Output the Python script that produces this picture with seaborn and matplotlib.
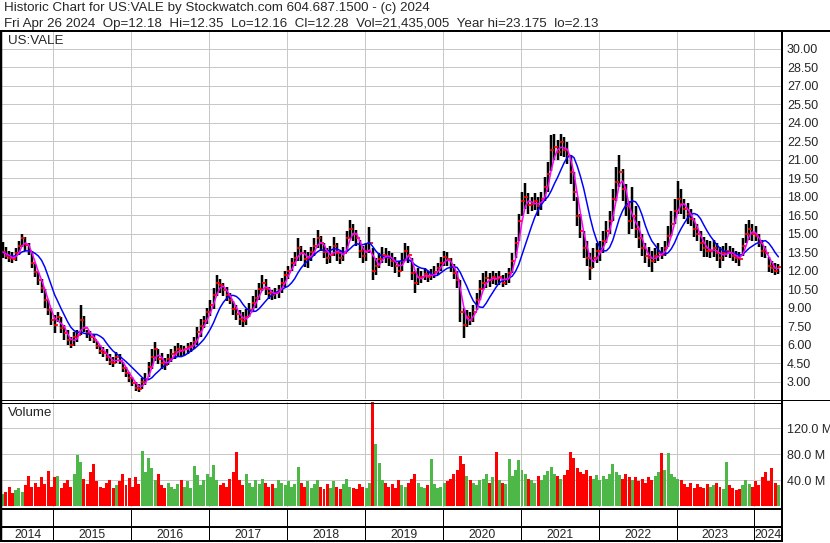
import numpy as np
import pandas as pd
import matplotlib
matplotlib.use("Agg")
import matplotlib.pyplot as plt
import seaborn as sns

sns.set_style("white")
plt.rcParams["font.family"] = ["Liberation Sans", "DejaVu Sans"]

# ---------------- data (semi-monthly bars, late Apr 2014 -> Apr 2024) ----------------
start_year = 2014.35          # first bar position in fractional years
n_per_year = 24

price_high = [
    14.3, 13.9, 13.6, 13.5, 13.8, 14.4, 15.0, 14.7, 14.2, 13.6,
    12.5, 11.9, 11.3, 10.5, 9.6, 9.0, 8.4, 8.6, 8.2, 7.6,
    7.2, 6.6, 7.0, 7.2, 9.2, 8.3, 7.2, 7.1, 6.8, 6.3,
    6.0, 5.8, 5.6, 5.2, 5.0, 5.4, 5.2, 4.6, 4.2, 3.8,
    3.4, 3.0, 2.8, 3.3, 3.7, 4.6, 5.6, 6.2, 5.6, 5.3,
    4.9, 5.2, 5.6, 5.9, 6.1, 6.0, 5.9, 6.1, 6.2, 6.6,
    7.4, 8.1, 8.3, 9.0, 9.6, 10.6, 11.6, 11.3, 11.0, 10.7,
    10.2, 9.5, 9.2, 8.8, 8.6, 8.9, 9.4, 9.9, 10.4, 11.0,
    11.6, 11.3, 10.7, 10.4, 10.6, 10.8, 11.4, 12.0, 12.4, 13.0,
    13.5, 14.6, 14.0, 13.7, 13.5, 13.9, 14.6, 15.3, 14.8, 14.2,
    13.8, 14.0, 14.7, 14.2, 13.6, 13.9, 15.2, 16.1, 15.8, 15.3,
    14.5, 14.0, 14.2, 15.5, 13.8, 13.0, 13.4, 13.9, 13.8, 13.6,
    13.4, 13.1, 12.8, 13.4, 14.2, 14.0, 13.0, 12.0, 12.2, 12.0,
    12.2, 12.0, 12.1, 12.4, 12.6, 13.1, 13.6, 13.5, 13.0, 12.5,
    12.0, 11.2, 9.0, 8.8, 8.6, 9.2, 10.2, 11.2, 11.8, 12.0,
    11.8, 12.0, 11.8, 12.0, 11.6, 11.8, 12.2, 13.4, 14.7, 16.6,
    18.4, 19.1, 18.3, 18.0, 18.3, 18.0, 18.4, 19.6, 20.8, 23.0,
    23.1, 22.6, 23.1, 22.8, 22.4, 21.4, 20.0, 18.0, 16.6, 15.2,
    14.4, 13.4, 13.8, 14.2, 14.4, 15.2, 16.0, 16.8, 18.6, 20.4,
    21.4, 20.2, 19.0, 17.6, 18.8, 17.2, 16.0, 15.0, 14.2, 13.9,
    13.6, 13.8, 14.2, 13.9, 14.4, 15.6, 16.8, 17.8, 19.3, 18.6,
    17.8, 17.5, 17.0, 16.3, 15.8, 15.2, 14.7, 14.5, 14.4, 14.5,
    14.2, 13.9, 14.0, 14.2, 14.0, 13.8, 13.6, 13.5, 14.6, 15.8,
    16.1, 15.8, 15.6, 15.0, 14.5, 14.0, 13.1, 12.8, 12.6, 12.5,
]

price_low = [
    13.0, 12.9, 12.7, 12.6, 12.8, 13.3, 13.9, 13.6, 13.3, 12.2,
    11.5, 10.8, 10.2, 9.0, 8.4, 7.6, 6.9, 7.8, 6.9, 6.4,
    6.0, 5.7, 5.9, 6.2, 6.8, 7.0, 6.5, 6.3, 6.1, 5.6,
    5.2, 5.0, 4.7, 4.3, 4.2, 4.5, 4.4, 3.8, 3.4, 3.0,
    2.6, 2.2, 2.15, 2.4, 2.7, 3.4, 4.0, 4.7, 4.4, 4.0,
    3.9, 4.3, 4.6, 4.8, 5.0, 5.0, 5.1, 5.2, 5.4, 5.6,
    6.0, 6.6, 7.3, 7.7, 8.3, 8.9, 9.9, 10.2, 9.9, 9.5,
    9.3, 8.4, 8.0, 7.6, 7.4, 7.6, 8.2, 8.6, 9.0, 9.6,
    10.3, 10.0, 9.7, 9.6, 9.7, 9.8, 10.2, 10.7, 11.3, 12.0,
    12.4, 12.8, 12.8, 12.3, 12.2, 12.8, 13.2, 13.8, 13.6, 13.0,
    12.5, 12.6, 13.2, 12.8, 12.5, 12.8, 13.6, 14.6, 14.4, 14.0,
    13.0, 12.6, 12.8, 13.4, 11.2, 11.6, 12.2, 12.6, 12.6, 12.4,
    12.3, 11.8, 11.5, 12.0, 12.8, 12.6, 11.2, 10.2, 10.8, 11.0,
    11.2, 11.1, 11.2, 11.4, 11.6, 12.0, 12.4, 12.4, 11.9, 11.3,
    10.6, 7.8, 6.5, 7.4, 7.6, 7.8, 8.8, 9.6, 10.4, 10.6,
    10.7, 10.9, 10.8, 10.8, 10.7, 10.8, 11.0, 11.8, 13.0, 14.4,
    16.4, 17.0, 16.6, 16.8, 16.9, 16.4, 16.9, 17.6, 18.4, 20.1,
    21.0, 21.0, 21.3, 21.2, 20.6, 19.0, 17.6, 15.6, 14.6, 13.0,
    12.4, 11.2, 12.2, 12.6, 12.8, 13.4, 14.2, 15.0, 16.0, 17.6,
    18.8, 17.6, 16.4, 15.0, 15.4, 14.6, 13.8, 13.2, 12.6, 12.3,
    11.9, 12.6, 12.8, 12.9, 13.2, 13.9, 14.8, 15.8, 16.6, 16.6,
    16.2, 15.8, 15.6, 14.7, 14.4, 13.6, 13.1, 13.1, 13.0, 13.1,
    12.8, 12.2, 12.8, 13.1, 13.0, 12.8, 12.6, 12.4, 13.2, 14.2,
    14.5, 14.4, 14.4, 13.9, 13.1, 13.0, 11.9, 11.8, 11.6, 11.7,
]

price_close = [
    13.5, 13.2, 13.0, 12.9, 13.4, 14.0, 14.6, 14.1, 13.6, 12.6,
    11.9, 11.2, 10.6, 9.6, 8.8, 8.0, 7.6, 8.2, 7.3, 6.9,
    6.4, 6.0, 6.6, 6.8, 8.0, 7.3, 6.9, 6.6, 6.4, 5.9,
    5.5, 5.3, 5.0, 4.6, 4.5, 5.0, 4.7, 4.1, 3.7, 3.3,
    2.9, 2.5, 2.4, 3.0, 3.2, 4.2, 5.0, 5.6, 4.8, 4.5,
    4.3, 4.8, 5.2, 5.4, 5.6, 5.5, 5.6, 5.8, 5.9, 6.2,
    7.0, 7.5, 7.9, 8.6, 9.2, 10.0, 11.0, 10.8, 10.4, 10.0,
    9.6, 8.9, 8.5, 8.1, 7.9, 8.2, 8.8, 9.4, 9.8, 10.5,
    11.0, 10.5, 10.2, 10.0, 10.2, 10.4, 11.0, 11.6, 12.0, 12.6,
    13.0, 13.8, 13.4, 12.9, 13.0, 13.5, 14.0, 14.6, 14.2, 13.5,
    13.0, 13.3, 14.0, 13.4, 13.0, 13.4, 14.6, 15.4, 15.0, 14.6,
    13.6, 13.2, 13.6, 14.2, 12.0, 12.4, 12.9, 13.3, 13.2, 13.0,
    12.8, 12.4, 12.0, 12.8, 13.6, 13.3, 11.8, 11.0, 11.5, 11.5,
    11.7, 11.5, 11.6, 11.9, 12.2, 12.6, 13.1, 12.9, 12.3, 11.8,
    11.2, 8.6, 7.6, 8.2, 8.0, 8.6, 9.6, 10.5, 11.0, 11.4,
    11.2, 11.5, 11.3, 11.5, 11.0, 11.3, 11.8, 12.8, 14.2, 16.0,
    17.6, 18.0, 17.3, 17.4, 17.6, 17.2, 17.8, 18.8, 19.8, 21.8,
    22.0, 21.6, 22.4, 21.8, 21.3, 20.0, 18.4, 16.4, 15.2, 13.8,
    13.0, 12.2, 13.0, 13.6, 13.6, 14.4, 15.2, 16.0, 17.8, 19.2,
    20.0, 18.6, 17.2, 16.0, 16.4, 15.4, 14.6, 13.8, 13.2, 13.0,
    12.8, 13.2, 13.4, 13.3, 13.8, 14.8, 15.8, 16.8, 17.8, 17.4,
    17.0, 16.6, 16.2, 15.4, 15.0, 14.2, 13.8, 13.6, 13.6, 13.8,
    13.4, 13.0, 13.4, 13.6, 13.4, 13.2, 13.0, 12.9, 14.0, 15.0,
    15.4, 15.0, 14.8, 14.2, 13.6, 13.4, 12.4, 12.2, 12.0, 12.28,
]

volume_m = [
    18, 22, 30, 20, 25, 28, 22, 32, 46, 30,
    36, 30, 45, 34, 54, 30, 44, 46, 28, 36,
    40, 30, 50, 78, 68, 42, 34, 52, 64, 38,
    30, 28, 36, 40, 28, 32, 38, 49, 32, 43,
    30, 45, 34, 85, 52, 74, 58, 40, 50, 32,
    28, 36, 30, 26, 34, 40, 30, 38, 28, 61,
    48, 32, 40, 50, 44, 63, 40, 32, 36, 30,
    42, 52, 83, 40, 32, 49, 36, 30, 40, 34,
    42, 36, 30, 34, 28, 40, 36, 32, 38, 30,
    34, 60, 36, 30, 38, 28, 34, 40, 30, 26,
    34, 28, 38, 30, 26, 34, 42, 30, 28, 26,
    34, 30, 28, 36, 175, 95, 66, 40, 36, 30,
    34, 28, 40, 32, 30, 36, 42, 50, 36, 30,
    28, 32, 72, 34, 28, 30, 36, 38, 42, 50,
    55, 77, 65, 46, 40, 36, 32, 40, 42, 50,
    36, 44, 83, 40, 36, 34, 72, 46, 55, 71,
    56, 50, 42, 40, 36, 46, 40, 48, 54, 60,
    50, 46, 42, 48, 56, 83, 74, 58, 52, 50,
    56, 46, 42, 48, 40, 46, 42, 50, 65, 52,
    48, 42, 50, 44, 40, 44, 38, 42, 36, 44,
    40, 46, 52, 81, 56, 81, 50, 44, 42, 40,
    34, 30, 36, 28, 34, 30, 28, 34, 30, 32,
    36, 30, 26, 67, 32, 28, 24, 26, 32, 40,
    34, 30, 38, 32, 44, 53, 38, 59, 36, 32,
]

price_ticks = [3.0, 4.5, 6.0, 7.5, 9.0, 10.5, 12.0, 13.5, 15.0, 16.5, 18.0, 19.5,
               21.0, 22.5, 24.0, 25.5, 27.0, 28.5, 30.0]
volume_ticks = [40, 80, 120]
volume_tick_labels = ["40.0 M", "80.0 M", "120.0 M"]
years = list(range(2014, 2025))

header_line1 = "Historic Chart for US:VALE by Stockwatch.com 604.687.1500 - (c) 2024"
header_line2 = ("Fri Apr 26 2024  Op=12.18  Hi=12.35  Lo=12.16  Cl=12.28  "
                "Vol=21,435,005  Year hi=23.175  lo=2.13")
symbol_label = "US:VALE"
volume_label = "Volume"

# ---------------- frame ----------------
df = pd.DataFrame({
    "t": start_year + np.arange(len(price_close)) / n_per_year,
    "high": price_high, "low": price_low, "close": price_close,
    "vol": volume_m,
})
df["ma_fast"] = df["close"].rolling(3, min_periods=1).mean()
df["ma_slow"] = df["close"].rolling(8, min_periods=1).mean()
df["up"] = df["close"].diff().fillna(0) >= 0

W, H = 830, 543
PX = 0.72  # points per pixel at dpi 100


def rect(x0, y0, x1, y1):
    return [x0 / W, 1 - y1 / H, (x1 - x0) / W, (y1 - y0) / H]


# x scale: 2015.0 at px 53.3, 77.9 px per year
XLIM = (2015 + (2 - 53.3) / 77.9, 2015 + (781 - 53.3) / 77.9)
GRID = "#c8c8c8"
FS_TICK = 9.0
FS_HEAD = 9.6
FS_YEAR = 8.8

fig = plt.figure(figsize=(W / 100, H / 100), dpi=100)
fig.patch.set_facecolor("white")

# ---- price panel ----
axp = fig.add_axes(rect(2, 32, 781, 399))
axp.set_xlim(*XLIM)
axp.set_ylim(3 - (399 - 381.5) / 12.33, 3 + (381.5 - 32) / 12.33)
axp.set_yticks(price_ticks)
axp.set_yticklabels([f"{v:.2f}" for v in price_ticks])
axp.set_xticks(years[1:])
axp.set_xticklabels([])
axp.yaxis.tick_right()
axp.tick_params(axis="y", length=0, pad=6 * PX, labelsize=FS_TICK)
axp.tick_params(axis="x", length=0)
axp.grid(True, color=GRID, lw=1 * PX)
axp.set_axisbelow(True)
for s in axp.spines.values():
    s.set_visible(False)

axp.vlines(df["t"], df["low"], df["high"], color="black", lw=2.5 * PX, zorder=2)
axp.plot(df["t"] + 1.2 / 77.9, df["close"], ls="none", marker="_",
         ms=3.2 * PX, mew=1.7 * PX, color="red", zorder=3)
sns.lineplot(data=df, x="t", y="ma_slow", ax=axp, color="#0000ff",
             lw=1.5 * PX, legend=False, zorder=4)
sns.lineplot(data=df, x="t", y="ma_fast", ax=axp, color="#ff00ff",
             lw=1.5 * PX, legend=False, zorder=5)
axp.set_xlabel("")
axp.set_ylabel("")

# ---- volume panel ----
axv = fig.add_axes(rect(2, 402, 781, 507))
axv.set_xlim(*XLIM)
axv.set_ylim(-1.5, 160)
colors = np.where(df["up"], "#4db848", "#ff0000")
axv.bar(df["t"], df["vol"], width=0.92 / n_per_year, color=colors, lw=0, zorder=2)
axv.set_yticks(volume_ticks)
axv.set_yticklabels(volume_tick_labels)
axv.set_xticks(years[1:])
axv.set_xticklabels([])
axv.yaxis.tick_right()
axv.tick_params(axis="y", length=0, pad=6 * PX, labelsize=FS_TICK)
axv.tick_params(axis="x", length=0)
axv.grid(True, color=GRID, lw=1 * PX)
axv.set_axisbelow(True)
for s in axv.spines.values():
    s.set_visible(False)

# ---- bottom date axis ----
axb = fig.add_axes(rect(2, 509, 781, 541))
axb.set_xlim(*XLIM)
axb.set_ylim(0, 1)
axb.axis("off")
axb.vlines(years[1:], 0, 1, color="black", lw=1 * PX)
for y in years:
    lo = max(y, XLIM[0])
    hi = min(y + 1, XLIM[1])
    axb.text((lo + hi) / 2, 0.19, str(y), ha="center", va="center", fontsize=FS_YEAR)

# ---- overlay: frame lines and texts in pixel coords ----
ov = fig.add_axes([0, 0, 1, 1], zorder=10)
ov.set_xlim(0, W)
ov.set_ylim(H, 0)
ov.axis("off")


def seg(x0, y0, x1, y1, lw):
    ov.plot([x0, x1], [y0, y1], color="black", lw=lw * PX, solid_capstyle="butt")


seg(0, 31, W, 31, 2)
seg(1, 30, 1, 542, 2.5)
seg(782, 30, 782, 542, 2)
seg(0, 400, W, 400, 1)
seg(0, 402.5, 782, 402.5, 1)
seg(0, 508.5, 782, 508.5, 2)
seg(0, 527, 782, 527, 2)
seg(0, 541, 782, 541, 2)

ov.text(4, 8.5, header_line1, fontsize=FS_HEAD, va="center", ha="left")
ov.text(4, 23.5, header_line2, fontsize=FS_HEAD, va="center", ha="left")
ov.text(8, 41.5, symbol_label, fontsize=FS_HEAD, va="center", ha="left")
ov.text(8, 413, volume_label, fontsize=FS_HEAD, va="center", ha="left")

fig.savefig("out.png", dpi=100, facecolor="white")
